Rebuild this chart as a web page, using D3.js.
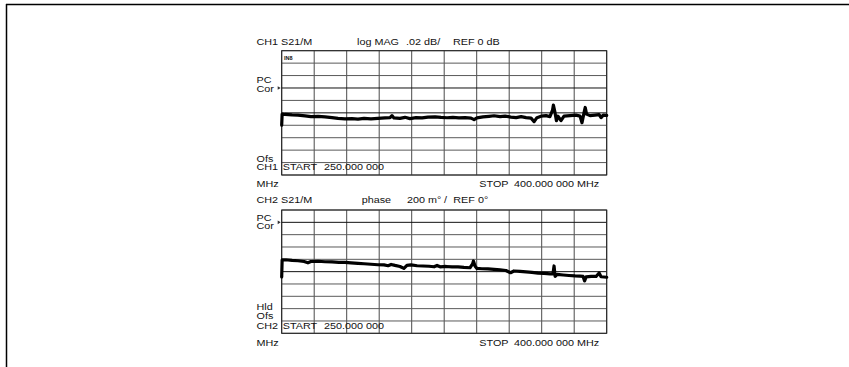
<!DOCTYPE html>
<html>
<head>
<meta charset="utf-8">
<script src="https://cdn.jsdelivr.net/npm/d3@7"></script>
<style>
  html, body { margin: 0; padding: 0; background: #fff; }
  svg text { font-family: "Liberation Sans", Arial, sans-serif; font-size: 9px; fill: #111; }
</style>
</head>
<body>
<svg id="chart" width="849" height="367"></svg>
<script>
// sweep range (MHz) and grid divisions
const freqRange = [250, 400];
const xDivs = 10;
const yDivs = 10;

// CH1: log MAG, .02 dB/div, REF 0 dB
const ch1Freq = [250, 250.2, 251.5, 254.8, 257.5, 260.8, 263.5, 266.8, 270, 273.2, 276, 279.2, 282.4, 285.2, 288, 291.2,
  294.4, 297.7, 300, 300.9, 301.8, 304.6, 306.9, 309.2, 312, 314.8, 317.5, 320.8, 323.5, 326.3, 329, 331.8, 334.6,
  337.4, 338.8, 340.1, 342.9, 345.7, 348, 350.8, 353.1, 355.8, 358.2, 360.5, 362.8, 365.1, 366.5, 367.8, 369.7, 372,
  373.8, 375, 375.4, 376.1, 376.8, 377.5, 378.9, 380.3, 383.1, 385.8, 387.7, 388.6, 389.6, 390.1, 390.7, 392.3, 394.6,
  396.5, 397.4, 398.4, 400];
const ch1Mag = [-0.0198, -0.0021, -0.0026, -0.0034, -0.0037, -0.0050, -0.0061, -0.0056, -0.0066, -0.0077, -0.0090,
  -0.0098, -0.0093, -0.0101, -0.0088, -0.0098, -0.0090, -0.0082, -0.0077, -0.0045, -0.0082, -0.0088, -0.0072, -0.0093,
  -0.0077, -0.0082, -0.0069, -0.0066, -0.0074, -0.0079, -0.0072, -0.0082, -0.0077, -0.0085, -0.0109, -0.0082, -0.0066,
  -0.0056, -0.0047, -0.0061, -0.0053, -0.0069, -0.0077, -0.0061, -0.0077, -0.0085, -0.0142, -0.0077, -0.0053, -0.0045,
  -0.0061, 0.0043, 0.0124, 0.0011, -0.0126, -0.0053, -0.0126, -0.0053, -0.0045, -0.0037, -0.0053, -0.0158, 0.0011,
  0.0087, -0.0021, -0.0045, -0.0037, -0.0029, -0.0077, -0.0037, -0.0040];

// CH2: phase, 0.2 deg/div
const ch2Freq = [250, 250.2, 252, 254.8, 257.5, 260.3, 262.1, 263.5, 266.8, 270, 273.2, 276.4, 279.2, 282, 285.2, 288,
  291.2, 294.4, 297.2, 299.1, 300.5, 302.3, 304.6, 306.4, 307.8, 309.7, 312.5, 315.2, 318, 320.3, 321.7, 323.1, 325.9,
  328.6, 331.4, 334.1, 336.9, 338.1, 338.5, 339.2, 340.1, 342.4, 345.2, 348, 350.8, 353.5, 355.6, 357.2, 360, 362.8,
  365.5, 368.3, 371.1, 373.9, 375.2, 375.7, 376.2, 377.1, 379.9, 382.6, 385.4, 387.7, 389.1, 389.8, 390.5, 392.8,
  395.1, 396.5, 397.4, 400];
const ch2Phase = [-0.086, 0.190, 0.193, 0.182, 0.177, 0.165, 0.144, 0.165, 0.169, 0.161, 0.157, 0.152, 0.149, 0.141,
  0.133, 0.128, 0.120, 0.112, 0.109, 0.096, 0.117, 0.101, 0.084, 0.052, 0.101, 0.109, 0.096, 0.092, 0.088, 0.079,
  0.101, 0.079, 0.084, 0.076, 0.076, 0.068, 0.063, 0.125, 0.174, 0.092, 0.052, 0.047, 0.044, 0.036, 0.028, 0.019,
  -0.018, 0.011, 0.003, -0.005, -0.013, -0.024, -0.029, -0.037, -0.037, 0.092, -0.078, -0.045, -0.054, -0.062,
  -0.070, -0.073, -0.078, -0.151, -0.086, -0.078, -0.078, -0.021, -0.083, -0.091];

const svg = d3.select('#chart');

// outer frame (top and left edges only visible)
svg.append('line').attr('x1', 6).attr('y1', 4.5).attr('x2', 849).attr('y2', 4.5)
  .attr('stroke', '#000').attr('stroke-width', 1.5);
svg.append('line').attr('x1', 6.5).attr('y1', 4).attr('x2', 6.5).attr('y2', 367)
  .attr('stroke', '#000').attr('stroke-width', 1.5);

const left = 281.7, right = 606.7;
const x = d3.scaleLinear().domain(freqRange).range([left, right]);

// instrument font is wide: stretch glyphs horizontally
function label(g, px, py, s) {
  g.append('text').attr('transform', `translate(${px},${py}) scale(1.2,1)`).text(s);
}

function drawPanel(cfg) {
  const g = svg.append('g');
  const y = d3.scaleLinear().domain(cfg.domain).range([cfg.bottom, cfg.top]);
  const xt = d3.range(xDivs + 1).map(i => freqRange[0] + i * (freqRange[1] - freqRange[0]) / xDivs);
  const yt = d3.range(yDivs + 1).map(i => cfg.domain[0] + i * (cfg.domain[1] - cfg.domain[0]) / yDivs);

  g.selectAll('.vg').data(xt).enter().append('line')
    .attr('x1', d => x(d)).attr('x2', d => x(d))
    .attr('y1', cfg.top).attr('y2', cfg.bottom)
    .attr('stroke', '#4a4a4a').attr('stroke-width', 1);
  g.selectAll('.hg').data(yt).enter().append('line')
    .attr('x1', left).attr('x2', right)
    .attr('y1', d => y(d)).attr('y2', d => y(d))
    .attr('stroke', (d, i) => cfg.darkRows.includes(i) ? '#111' : '#5a5a5a')
    .attr('stroke-width', 1);
  g.append('rect').attr('x', left).attr('y', cfg.top)
    .attr('width', right - left).attr('height', cfg.bottom - cfg.top)
    .attr('fill', 'none').attr('stroke', '#222').attr('stroke-width', 1);

  // reference marker on the left edge
  const my = y(yt[cfg.markerRow]);
  g.append('path').attr('d', `M${left - 4},${my - 1.8}L${left - 1},${my}L${left - 4},${my + 1.8}Z`)
    .attr('fill', '#333');

  const pts = cfg.freq.map((f, i) => [f, cfg.values[i]]);
  g.append('path').datum(pts)
    .attr('d', d3.line().x(d => x(d[0])).y(d => y(d[1])))
    .attr('fill', 'none').attr('stroke', '#000').attr('stroke-width', 3.2)
    .attr('stroke-linejoin', 'round').attr('stroke-linecap', 'round');

  cfg.labels.forEach(l => label(g, l[0], l[1], l[2]));
}

drawPanel({
  top: 50.7, bottom: 175, domain: [-0.1, 0.1],
  freq: ch1Freq, values: ch1Mag, darkRows: [5, 7], markerRow: 7,
  labels: [
    [256.5, 45, 'CH1 S21/M'], [357, 45, 'log MAG'], [406, 45, '.02 dB/'], [453, 45, 'REF 0 dB'],
    [256.5, 83.3, 'PC'], [256.5, 91.7, 'Cor'], [256.5, 161.5, 'Ofs'],
    [256.5, 170, 'CH1'], [282.7, 170, 'START'], [324, 170, '250.000 000'],
    [256.5, 186.7, 'MHz'], [479.3, 186.7, 'STOP'], [514, 186.7, '400.000 000 MHz']
  ]
});

drawPanel({
  top: 210, bottom: 333.3, domain: [-1, 1],
  freq: ch2Freq, values: ch2Phase, darkRows: [5, 9], markerRow: 9,
  labels: [
    [256.5, 202.7, 'CH2 S21/M'], [361.7, 202.7, 'phase'], [407, 202.7, '200 m°'], [444, 202.7, '/'],
    [453.3, 202.7, 'REF 0°'],
    [256.5, 220.8, 'PC'], [256.5, 229.3, 'Cor'], [256.5, 310.2, 'Hld'], [256.5, 318.7, 'Ofs'],
    [256.5, 329, 'CH2'], [282.7, 329, 'START'], [324, 329, '250.000 000'],
    [256.5, 345.7, 'MHz'], [479.3, 345.7, 'STOP'], [514, 345.7, '400.000 000 MHz']
  ]
});

// tiny status icon in the CH1 grid
svg.append('text').attr('x', 284).attr('y', 59.5)
  .style('font-size', '5.5px').style('font-weight', 'bold').text('IN8');
</script>
</body>
</html>
